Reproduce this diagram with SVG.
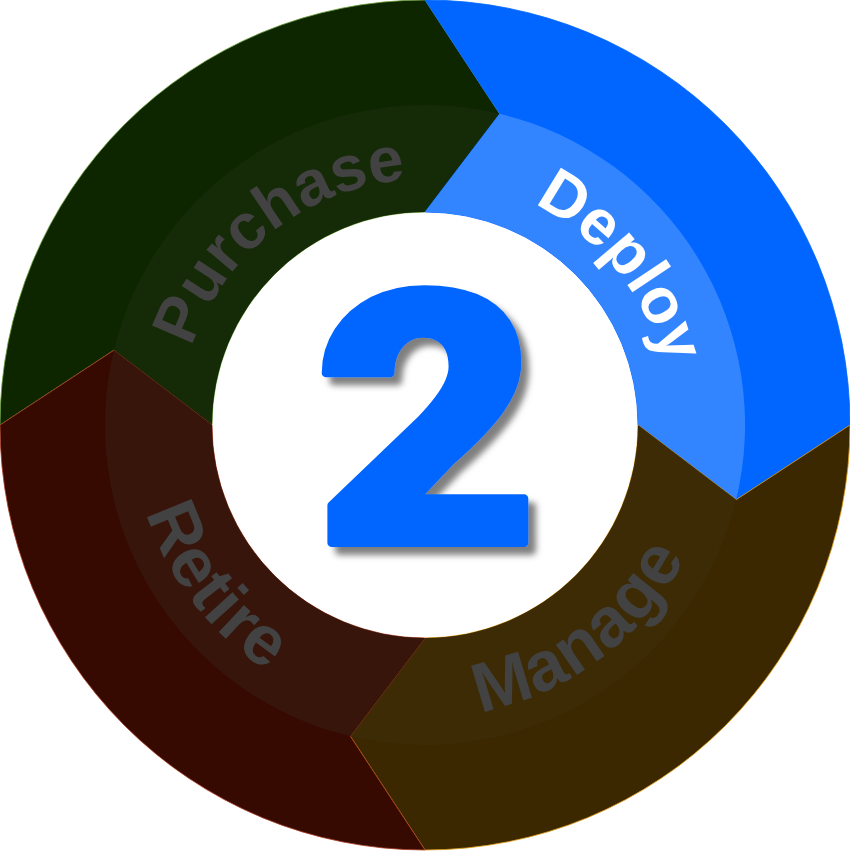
<svg xmlns="http://www.w3.org/2000/svg" width="850" height="851" viewBox="0 0 850 851">
<style>
.lbl{font-family:"Liberation Sans",Arial,sans-serif;font-weight:bold;}
.up{font-size:64px;}
.dn{font-size:70px;letter-spacing:1px;}
.gray{fill:#424242;}
.white{fill:#ffffff;}
.seg{stroke-width:0.8;}
</style>
<defs>
<filter id="sh" x="-20%" y="-20%" width="150%" height="150%">
<feDropShadow dx="7" dy="8" stdDeviation="3" flood-color="#000" flood-opacity="0.5"/>
</filter>
<path id="pPurchase" d="M 207.8 540.5 A 246 246 0 0 1 589.6 242.2"/>
<path id="pDeploy" d="M 305.7 209.8 A 246 246 0 0 1 610.7 586.4"/>
<path id="pManage" d="M 225.9 638.6 A 292 292 0 0 0 685.2 292.4"/>
<path id="pRetire" d="M 209.7 227.7 A 292 292 0 0 0 559.8 684.0"/>
</defs>
<rect width="850" height="851" fill="#ffffff"/>
<g id="purchase">
<path class="seg" d="M 0 425 A 425 425 0 0 1 425 0 L 499.7 113.8 L 425 212 A 213 213 0 0 0 212 425 L 113.8 350.3 Z" fill="#0d2600" stroke="#6a9e3a"/>
<path d="M 212 425 L 113.8 350.3 A 320 320 0 0 1 499.7 113.8 L 425 212 A 213 213 0 0 0 212 425 Z" fill="#152a07"/>
<text class="lbl up gray"><textPath href="#pPurchase" startOffset="50%" text-anchor="middle">Purchase</textPath></text>
</g>
<g id="deploy">
<path class="seg" d="M 425 0 A 425 425 0 0 1 850 425 L 736.2 499.7 L 638 425 A 213 213 0 0 0 425 212 L 499.7 113.8 Z" fill="#0066ff" stroke="#0066ff"/>
<path d="M 425 212 L 499.7 113.8 A 320 320 0 0 1 736.2 499.7 L 638 425 A 213 213 0 0 0 425 212 Z" fill="#3385ff"/>
<text class="lbl up white"><textPath href="#pDeploy" startOffset="50%" text-anchor="middle">Deploy</textPath></text>
</g>
<g id="manage">
<path class="seg" d="M 850 425 A 425 425 0 0 1 425 850 L 350.3 736.2 L 425 638 A 213 213 0 0 0 638 425 L 736.2 499.7 Z" fill="#3b2800" stroke="#e09a10"/>
<path d="M 638 425 L 736.2 499.7 A 320 320 0 0 1 350.3 736.2 L 425 638 A 213 213 0 0 0 638 425 Z" fill="#3d2b06"/>
<text class="lbl dn gray"><textPath href="#pManage" startOffset="50%" text-anchor="middle">Manage</textPath></text>
</g>
<g id="retire">
<path class="seg" d="M 425 850 A 425 425 0 0 1 0 425 L 113.8 350.3 L 212 425 A 213 213 0 0 0 425 638 L 350.3 736.2 Z" fill="#360a00" stroke="#a83a20"/>
<path d="M 425 638 L 350.3 736.2 A 320 320 0 0 1 113.8 350.3 L 212 425 A 213 213 0 0 0 425 638 Z" fill="#37150b"/>
<text class="lbl dn gray"><textPath href="#pRetire" startOffset="50%" text-anchor="middle">Retire</textPath></text>
</g>
<g id="connectors"></g>
<g id="center">
<circle cx="425" cy="425" r="212" fill="#ffffff"/>
<text x="427" y="543" text-anchor="middle" transform="translate(427 0) scale(1.1 1) translate(-427 0)" font-family="Roboto, 'Liberation Sans', sans-serif" font-weight="900" font-size="352" fill="#0066ff" stroke="#0066ff" stroke-width="8" stroke-linejoin="round" filter="url(#sh)">2</text>
</g>
</svg>
